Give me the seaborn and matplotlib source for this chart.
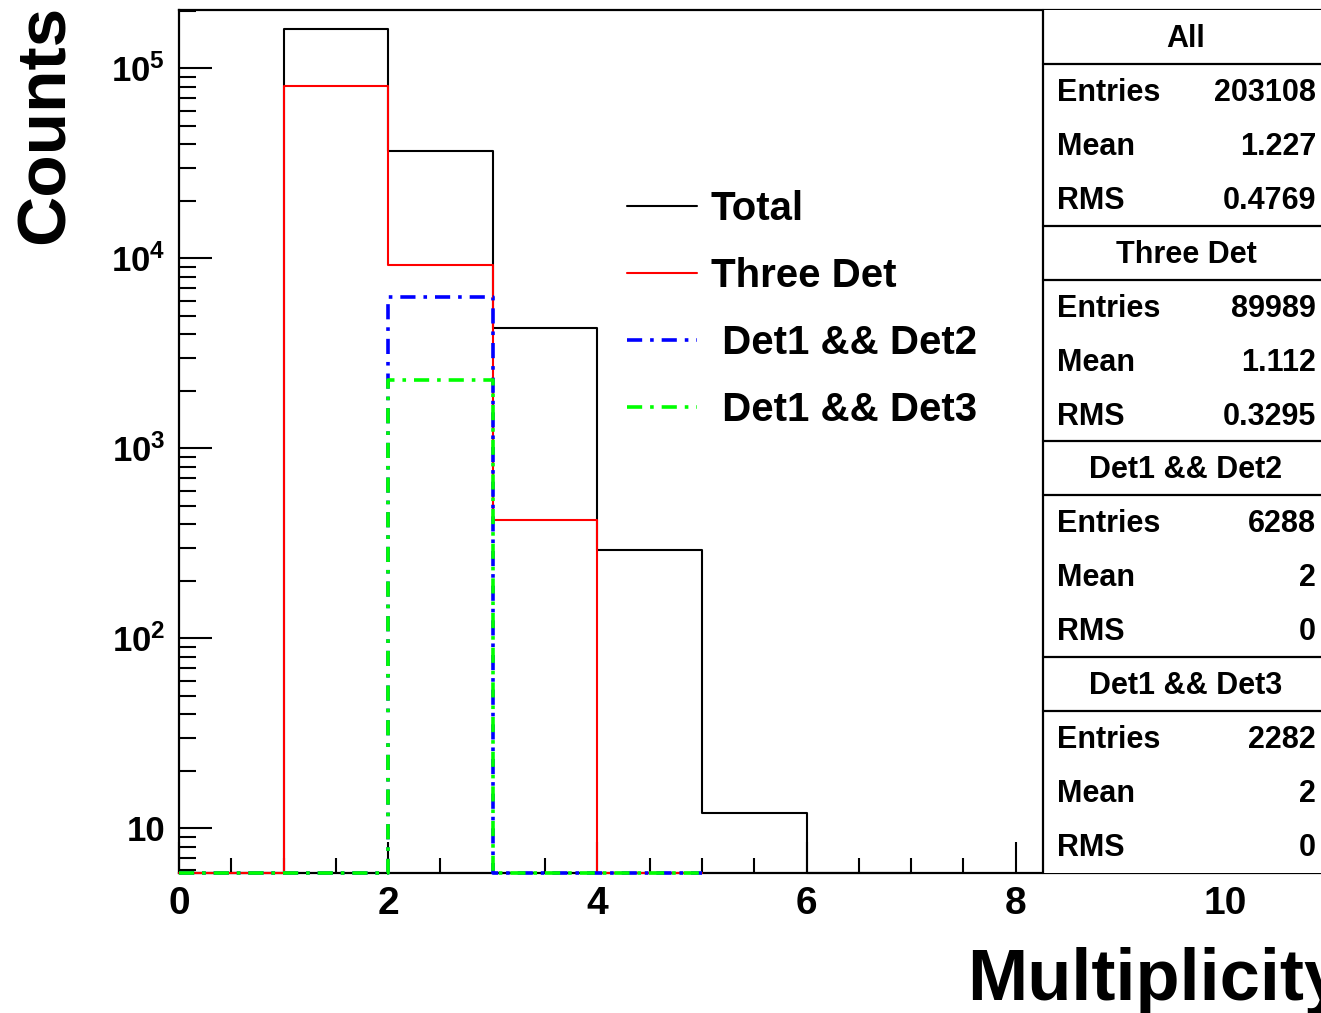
import numpy as np
import pandas as pd
import matplotlib
matplotlib.use("Agg")
import matplotlib.pyplot as plt
from matplotlib.ticker import MultipleLocator, FixedLocator, NullFormatter, LogLocator
from matplotlib.lines import Line2D
import seaborn as sns

# ---------------- data ----------------
bin_edges = [0, 1, 2, 3, 4, 5, 6, 7]
total_counts = [0, 161923, 36581, 4300, 292, 12, 0]
three_det_counts = [0, 80329, 9241, 419, 0]
det12_counts = [0, 0, 6288, 0, 0]
det13_counts = [0, 0, 2282, 0, 0]

series_labels = ["Total", "Three Det", " Det1 && Det2", " Det1 && Det3"]
series_colors = ["#000000", "#ff0000", "#0000ff", "#00ff00"]

stat_titles = ["All", "Three Det", "Det1 && Det2", "Det1 && Det3"]
stat_entries = ["203108", "89989", "6288", "2282"]
stat_means = ["1.227", "1.112", "2", "2"]
stat_rms = ["0.4769", "0.3295", "0", "0"]

x_label = "Multiplicity"
y_label = "Counts"

# ---------------- style ----------------
sns.set_theme(style="white")
plt.rcParams["font.family"] = ["Liberation Sans", "DejaVu Sans"]
plt.rcParams["font.weight"] = "bold"
plt.rcParams["text.color"] = "black"
plt.rcParams["axes.labelcolor"] = "black"
plt.rcParams["xtick.color"] = "black"
plt.rcParams["ytick.color"] = "black"
plt.rcParams["mathtext.fontset"] = "custom"
plt.rcParams["mathtext.rm"] = "Liberation Sans:bold"
plt.rcParams["mathtext.bf"] = "Liberation Sans:bold"
plt.rcParams["mathtext.it"] = "Liberation Sans:bold"

W, H = 1321, 1013
fig = plt.figure(figsize=(W / 100, H / 100), dpi=100)

def fx(px):
    return px / W

def fy(py):
    return 1 - py / H

x_min, x_max = 0, 11.5
px_per_unit = 104.6
ax_left_px, ax_top_px, ax_bot_px = 179, 10, 873
ax = fig.add_axes([fx(ax_left_px), fy(ax_bot_px),
                   x_max * px_per_unit / W, (ax_bot_px - ax_top_px) / H])

y_lo, y_hi = 5.82, 2.03e5
ax.set_yscale("log")
ax.set_xlim(x_min, x_max)
ax.set_ylim(y_lo, y_hi)

def step_frame(counts):
    edges = bin_edges[: len(counts) + 1]
    vals = list(np.maximum(np.array(counts, dtype=float), y_lo)) + [y_lo]
    return pd.DataFrame({"x": edges, "y": vals})

dashdot = (0, (4.2, 2.2, 1.0, 2.2))
series = [
    (total_counts, 1.5, "-"),
    (three_det_counts, 1.5, "-"),
    (det12_counts, 2.6, dashdot),
    (det13_counts, 2.6, dashdot),
]
for (counts, lw, ls), lab, col in zip(series, series_labels, series_colors):
    df = step_frame(counts)
    sns.lineplot(data=df, x="x", y="y", ax=ax, drawstyle="steps-post",
                 color=col, linewidth=lw, linestyle=ls, label=lab,
                 estimator=None, sort=False, clip_on=False, zorder=3)

# ---------------- axes styling ----------------
for s in ["left", "bottom", "top", "right"]:
    ax.spines[s].set_linewidth(1.6)
    ax.spines[s].set_color("black")

ax.xaxis.set_major_locator(MultipleLocator(2))
ax.xaxis.set_minor_locator(MultipleLocator(0.5))
ax.tick_params(axis="x", which="major", direction="in", length=22, width=1.5,
               labelsize=28, pad=9, top=False, bottom=True, colors="black")
ax.tick_params(axis="x", which="minor", direction="in", length=11, width=1.5,
               top=False, bottom=True, colors="black")
ax.set_xticklabels([f"{int(v)}" for v in ax.get_xticks()], fontweight="bold")

major_y = [10, 100, 1000, 10000, 100000]
ax.yaxis.set_major_locator(FixedLocator(major_y))
ax.yaxis.set_minor_locator(LogLocator(base=10, subs=np.arange(2, 10)))
ax.yaxis.set_minor_formatter(NullFormatter())
ylabels = ["10"] + [r"$\mathbf{10^{%d}}$" % int(np.log10(v)) for v in major_y[1:]]
ax.set_yticklabels(ylabels, fontsize=25, fontweight="bold")
ax.tick_params(axis="y", which="major", direction="in", length=24, width=1.5,
               pad=10, left=True, right=False, colors="black")
ax.tick_params(axis="y", which="minor", direction="in", length=12, width=1.5,
               left=True, right=False, colors="black")
ax.set_xlabel("")
ax.set_ylabel("")

# axis titles
fig.text(fx(967), fy(1000), x_label, fontsize=52, fontweight="bold",
         ha="left", va="baseline", color="black")
fig.text(fx(64), fy(5), y_label, fontsize=50, fontweight="bold",
         rotation=90, rotation_mode="anchor", ha="right", va="baseline",
         color="black")

# ---------------- legend ----------------
leg = ax.legend(loc="upper left", bbox_to_anchor=(fx(627), fy(190)),
                bbox_transform=fig.transFigure, frameon=False,
                prop={"size": 29, "weight": "bold"}, handlelength=1.75,
                handletextpad=0.33, labelspacing=0.72, borderpad=0,
                borderaxespad=0)
for t in leg.get_texts():
    t.set_color("black")

# ---------------- stats box ----------------
box_left = 1043
row_h = (ax_bot_px - ax_top_px) / 16
fs_stat = 22
ax.add_artist(plt.Rectangle((fx(box_left), fy(ax_bot_px)), fx(W + 50) - fx(box_left),
                            fy(ax_top_px) - fy(ax_bot_px), transform=fig.transFigure,
                            facecolor="white", edgecolor="none", zorder=5, clip_on=False))
fig.add_artist(Line2D([fx(box_left), fx(box_left)], [fy(ax_top_px), fy(ax_bot_px)],
                      color="black", lw=1.6, zorder=6))
for k in range(4):
    y0 = ax_top_px + 4 * k * row_h
    for yl in ([y0 + row_h, y0 + 4 * row_h] if k < 3 else [y0 + row_h]):
        fig.add_artist(Line2D([fx(box_left), fx(W + 5)], [fy(yl), fy(yl)],
                              color="black", lw=1.6, zorder=6))
    fig.text(fx(1186), fy(y0 + 0.5 * row_h + 2), stat_titles[k], fontsize=fs_stat,
             fontweight="bold", ha="center", va="center", zorder=7, color="black")
    for j, (name, val) in enumerate(zip(["Entries", "Mean", "RMS"],
                                        [stat_entries[k], stat_means[k], stat_rms[k]])):
        yc = y0 + (j + 1.5) * row_h + 2
        fig.text(fx(1057), fy(yc), name, fontsize=fs_stat, fontweight="bold",
                 ha="left", va="center", zorder=7, color="black")
        fig.text(fx(1316), fy(yc), val, fontsize=fs_stat, fontweight="bold",
                 ha="right", va="center", zorder=7, color="black")

fig.savefig("out.png", dpi=100)
